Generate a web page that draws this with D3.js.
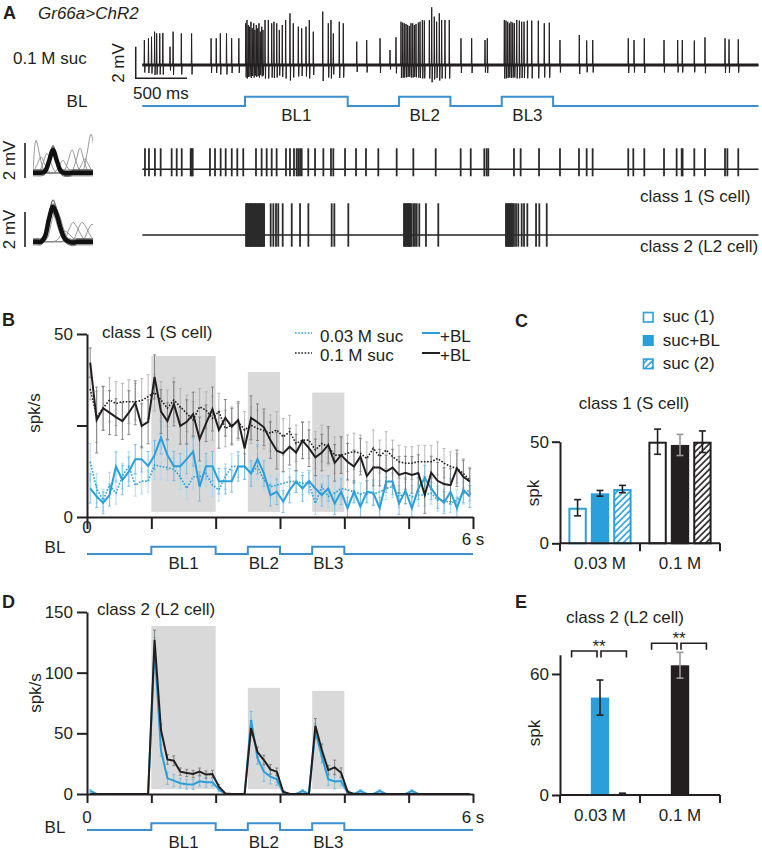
<!DOCTYPE html>
<html><head><meta charset="utf-8">
<script src="https://cdn.jsdelivr.net/npm/d3@7"></script>
<style>
html,body{margin:0;padding:0;background:#fff;}
svg{display:block;font-family:"Liberation Sans",Arial,Helvetica,sans-serif;}
</style></head><body>
<svg id="fig" width="762" height="853"></svg>
<script>
// ================= DATA =================
const blWindows = [[1,2],[2.5,3],[3.5,4]];
const blLabels = ["BL1","BL2","BL3"];

// Panel A: raw recording, spikes [time s, amplitude mV]
const rawSpikes = [
 [0.02,1.58],[0.06,1.69],[0.09,1.79],[0.12,2.11],[0.14,2.0],[0.17,2.0],[0.20,2.03],[0.27,1.16],[0.30,2.11],[0.38,2.0],[0.48,2.0],[0.67,1.69],[0.72,1.69],[0.76,2.0],[0.82,2.0],[0.87,1.69],[0.94,1.69],
 [1.007,2.64],[1.019,2.85],[1.032,2.53],[1.045,2.42],[1.058,2.74],[1.071,2.32],[1.085,2.64],[1.097,2.22],[1.110,2.53],[1.124,2.32],[1.136,2.64],[1.149,2.11],[1.163,2.42],[1.175,2.22],
 [1.195,2.85],[1.227,2.85],[1.26,2.64],[1.282,2.74],[1.309,2.64],[1.334,2.22],[1.363,2.53],[1.396,2.85],[1.438,3.27],[1.47,2.64],[1.519,2.43],[1.552,2.32],[1.594,2.43],[1.626,2.85],[1.665,2.11],[1.757,3.38],[1.811,2.64],[1.837,2.85],[1.86,2.0],[1.918,2.74],[1.957,2.64],[2.088,1.48],[2.185,1.58],[2.315,1.69],[2.412,0.95],
 [2.47,1.75],[2.519,2.74],[2.536,2.68],[2.551,2.64],[2.568,2.6],[2.584,2.53],[2.6,2.47],[2.616,2.64],[2.633,2.64],[2.649,2.53],[2.665,2.6],[2.688,2.68],[2.704,2.74],[2.727,2.85],[2.746,2.81],[2.795,2.85],[2.818,3.65],[2.843,3.06],[2.866,2.74],[2.892,3.27],[2.915,2.85],[2.947,2.85],[2.989,2.85],[3.103,1.69],[3.207,1.69],[3.337,1.58],[3.359,1.69],
 [3.525,2.85],[3.541,2.81],[3.558,2.74],[3.574,2.64],[3.59,2.74],[3.607,2.68],[3.623,2.64],[3.646,2.85],[3.671,2.81],[3.694,2.74],[3.717,2.74],[3.749,2.81],[3.792,2.81],[3.856,2.81],[3.914,2.64],[3.963,2.68],
 [4.067,1.58],[4.255,1.9],[4.327,1.55],[4.386,1.58],[4.732,1.69],[4.788,1.58],[4.888,1.69],[5.08,1.58],[5.213,1.58],[5.258,1.58],[5.375,1.55],[5.479,1.75],[5.674,1.69],[5.713,1.62],[5.803,1.62]
];
// sorted spike times (s)
const class1Times = [0.026,0.065,0.123,0.179,0.286,0.335,0.384,0.471,0.481,0.491,0.659,0.708,0.763,0.812,0.871,0.925,0.983,1.107,1.162,1.211,1.26,1.308,1.399,1.438,1.477,1.503,1.519,1.536,1.552,1.616,1.682,1.763,1.837,1.86,1.974,2.081,2.178,2.298,2.477,2.639,2.857,3.1,3.198,3.33,3.353,3.369,3.619,3.684,3.863,4.067,4.252,4.327,4.385,4.732,4.781,4.888,5.08,5.203,5.252,5.261,5.375,5.479,5.674,5.697,5.803];
const class2Times = [1.010,1.018,1.026,1.034,1.042,1.050,1.058,1.066,1.074,1.082,1.090,1.098,1.106,1.114,1.122,1.130,1.138,1.146,1.154,1.162,1.170,1.178,1.186,
 1.25,1.276,1.302,1.324,1.367,1.455,1.536,1.617,1.844,1.87,2.006,
 2.548,2.556,2.564,2.572,2.580,2.588,2.596,2.604,2.612,2.620,2.639,2.655,2.672,2.697,2.762,2.882,
 3.541,3.549,3.557,3.565,3.573,3.581,3.589,3.597,3.605,3.619,3.639,3.661,3.694,3.717,3.749,3.834,3.866,3.938];
// spike waveforms (time ms, mV)
const waveT = [-1,-0.8,-0.6,-0.4,-0.2,0,0.2,0.4,0.6,0.8,1,1.2,1.4,1.6,1.8,2];
const wave1 = [0,0,0,0.08,0.65,1.3,0.65,0.08,-0.03,-0.03,0,0,0,0,0,0];
const wave2 = [0,0,0,0.3,1.3,2.0,1.5,0.7,0.15,0,-0.05,0,0,0,0,0];
const wave1Overlaps = [[-0.85,1.85],[0.95,1.3],[1.35,1.4],[1.9,2.2],[-0.6,0.9],[0.5,0.7],[1.6,0.8],[-0.3,1.1]];
const wave2Overlaps = [[1.0,1.1],[1.45,1.1],[1.95,1.0],[0.15,1.9],[-0.1,1.8],[0.6,0.6]];
const waveBand = [[0.8,0.12],[0.9,-0.12],[1.15,0.08],[1.25,-0.1],[1.0,0.18],[1.05,-0.18]];

// Panel B (class 1) and D (class 2): spk/s per 100-ms bin
const timeBins = [0.05,0.15,0.25,0.35,0.45,0.55,0.65,0.75,0.85,0.95,1.05,1.15,1.25,1.35,1.45,1.55,1.65,1.75,1.85,1.95,2.05,2.15,2.25,2.35,2.45,2.55,2.65,2.75,2.85,2.95,3.05,3.15,3.25,3.35,3.45,3.55,3.65,3.75,3.85,3.95,4.05,4.15,4.25,4.35,4.45,4.55,4.65,4.75,4.85,4.95,5.05,5.15,5.25,5.35,5.45,5.55,5.65,5.75,5.85,5.95];
const b_blueSuc = [15.1,7.8,4.6,8.7,6.5,11.2,13.8,8.7,9.8,9.8,14.2,13.8,13.5,13.0,11.0,7.8,11.0,11.0,11.9,8.7,7.4,11.0,13.8,13.8,13.8,11.9,13.8,10.1,8.3,8.7,9.2,9.7,9.7,9.2,9.2,3.7,8.3,5.6,6.5,7.8,7.4,6.9,6.3,6.9,6.3,6.9,7.8,8.3,5.6,6.5,5.6,6.0,6.0,6.5,4.6,4.6,3.7,4.6,6.5,7.4];
const b_blueBL = [7.8,5.6,3.9,6.0,13.8,10.1,12.4,15.8,15.8,13.9,16.9,21.7,16.9,13.9,13.9,15.8,17.9,8.3,13.9,13.9,9.8,9.8,9.8,13.8,13.8,11.9,15.8,11.9,6.0,6.9,4.2,7.4,9.7,7.8,9.8,7.8,6.0,7.8,3.7,6.9,2.4,6.9,2.8,6.9,6.6,2.4,9.7,9.7,3.7,7.2,2.4,7.8,10.6,7.8,5.4,3.9,6.9,2.4,7.4,5.6];
const b_blackSuc = [35.0,27.4,29.7,32.0,31.0,31.5,31.5,31.5,31.8,32.9,34.0,32.0,29.7,32.0,30.1,28.3,26.5,30.1,29.2,27.0,28.8,24.2,25.1,26.0,23.8,25.1,24.2,23.6,22.9,23.8,21.9,23.3,20.1,21.0,21.0,18.3,20.1,19.2,16.9,16.9,17.4,17.9,17.4,16.0,18.8,16.5,18.3,16.5,15.1,14.7,14.7,15.1,15.1,15.1,16.0,14.7,13.8,13.3,11.9,10.1];
const b_blackBL = [42.2,26.5,29.7,28.5,27.3,26.2,28.5,31.2,24.9,26.0,38.3,28.8,26.2,30.9,24.9,26.0,28.1,21.3,25.6,29.5,23.8,27.1,24.7,26.5,18.8,27.1,25.9,24.5,21.0,18.1,17.4,19.2,17.6,20.9,18.8,16.3,17.6,19.7,14.8,16.9,15.1,13.8,16.5,11.2,13.5,13.5,12.4,13.5,11.5,12.1,11.5,12.0,6.0,12.1,9.9,9.0,8.7,13.3,11.0,9.7];
const b_blueSucErr = [5,4,3,3.5,3,3.5,4,3,3.5,3,4,3.5,3.5,3,3.5,3,3.5,3,3.5,3,3,3.5,3.5,3,3.5,3,3.5,3,3,3,3,3.5,3,3,3,3,3,3,3,3,3,3,3,3,3,3,3,3,3,3,3,3,3,3,3,3,2.5,3,3,3];
const b_blueBLErr = [4,3,3,3,4,4,4,4,3.5,4,4,4.5,4,4,3.5,4,4,4,3.5,4,3.5,3.5,3,4,3.5,3.5,4,3.5,3,3.5,3,3.5,3,3.5,3,3.5,3,3.5,3,3.5,3,3,3.5,3,3.5,3,3,3.5,3,3.5,3,3,3.5,3,3,3,3.5,3,3.5,3];
const b_blackSucErr = [3,7,6,6,6,5,6,5,6,6,5,5,5,6,5,5,5,5,5,6,5,5,5,5,5,5,5,5,5,5,5,4.5,5,5,5,5,5,5,5,5,5,5,5,4.5,5,4.5,5,4.5,4.5,4.5,4.5,4.5,4.5,4.5,4.5,4,4,4,4,3.5];
const b_blackBLErr = [4,9,6,6,5,5,6,6,6,6,6,6,5,6,5,6,6,6,5,6,5,5,5,5,5,6,5,5,5,5,5,5,5,5,5,5,5,5,5,5,5,4.5,5,5,5,5,4.5,5,5,4.5,5,5,5,4.5,5,4.5,4.5,5,4.5,3.5];
const shadeTopB = [44,39.6,34];
const shadeBottomB = 1.4;

const d_blueBL = [2.5,0,0,0,0,0,0,0,0,0,120,36,12.9,11,8.9,8,7.9,10.5,9.6,9.6,3.8,0,0,0,0,61,29.6,18.4,14.3,12.1,1,0,0,2.5,0,52,30.7,12.1,10.3,10.7,1,0,2.5,0,0,2.5,0,0,0,0,2.5,0,0,0,0,0,0,0,0,0];
const d_blackBL = [0,0,0,0,0,0,0,0,0,0,127,52.7,28.5,27.4,18.4,17.3,16.5,18.4,16,16.5,6,0.5,0,0,0,54.3,34.6,28,20.3,18.4,1.9,0,0,0,0,56.2,36.2,19.7,21.9,17.5,1.9,0,0,0,0,0,0,0,0,0,0,0,0,0,0,0,0,0,0,0];
const d_blueBLErr = [1,0,0,0,0,0,0,0,0,0,9,5,5,5,4,4,4,4,4,3,2,0,0,0,0,7,5,8,6,5,1,0,0,1,0,6,5,5,6,4,1,0,1,0,0,1,0,0,0,0,1,0,0,0,0,0,0,0,0,0];
const d_blackBLErr = [0,0,0,0,0,0,0,0,0,0,8,5,4,4,3,3,3,3,3,3,2,0,0,0,0,6,4,4,4,3,1,0,0,0,0,6,5,4,6,4,1,0,0,0,0,0,0,0,0,0,0,0,0,0,0,0,0,0,0,0];
const shadeTopD = [138.5,87.5,85];
const shadeBottomD = 4;

// Panels C and E: spikes per trial
const concGroups = ["0.03 M","0.1 M"];
const conditions = ["suc (1)","suc+BL","suc (2)"];
const c_suc1 = [17.5,50.0], c_sucBL = [24.6,48.4], c_suc2 = [26.7,50.0];
const c_suc1Err = [4.0,6.2], c_sucBLErr = [1.4,5.2], c_suc2Err = [1.8,5.3];
const e_suc1 = [0,0], e_sucBL = [48.3,64.3], e_suc2 = [0.6,0];
const e_suc1Err = [0,0], e_sucBLErr = [8.7,6.4], e_suc2Err = [0.3,0];
const e_bracketLevels = [71.4,75.2];
const e_stars = ["**","**"];

// ================= DRAWING =================
const INK = "#231f20", BLUE = "#2a9fd9", BLCOL = "#3a8fcf", SHADE = "#d9d9d9";
const FONT = 17;
const svg = d3.select("#fig");
svg.append("rect").attr("width",762).attr("height",853).attr("fill","#fff");

const defs = svg.append("defs");
[["hatchBlue",BLUE],["hatchBlack",INK]].forEach(([id,col])=>{
  const p = defs.append("pattern").attr("id",id).attr("width",4.5).attr("height",4.5)
    .attr("patternUnits","userSpaceOnUse").attr("patternTransform","rotate(45)");
  p.append("rect").attr("width",4.5).attr("height",4.5).attr("fill","#fff");
  p.append("line").attr("x1",1).attr("x2",1).attr("y1",0).attr("y2",4.5).attr("stroke",col).attr("stroke-width",1.6);
});
defs.append("clipPath").attr("id","insetClip").append("rect").attr("x",33).attr("y",120).attr("width",60).attr("height",140);

function txt(x,y,s,o={}){
  const t = svg.append("text").attr("x",x).attr("y",y).text(s)
    .attr("font-size",o.size||FONT).attr("fill",o.fill||INK);
  if(o.anchor) t.attr("text-anchor",o.anchor);
  if(o.weight) t.attr("font-weight",o.weight);
  if(o.style) t.attr("font-style",o.style);
  if(o.rotate) t.attr("transform",`rotate(-90,${x},${y})`);
  return t;
}
function styleAxis(g,w){
  g.attr("font-family",null).attr("font-size",null);
  g.selectAll("text").attr("font-size",FONT).attr("fill",INK);
  g.selectAll("path,line").attr("stroke",INK).attr("stroke-width",w||2);
}
function blSteps(){ const pts=[[0,0]]; blWindows.forEach(([a,b])=>pts.push([a,0],[a,1],[b,1],[b,0])); pts.push([6,0]); return pts; }
function drawBL(xs,yLow,yHigh,labelY,blX,blY){
  const ys = d3.scaleLinear([0,1],[yLow,yHigh]);
  svg.append("path").attr("d",d3.line().x(d=>xs(d[0])).y(d=>ys(d[1]))(blSteps()))
    .attr("fill","none").attr("stroke",BLCOL).attr("stroke-width",2);
  blWindows.forEach((w,i)=>txt(xs((w[0]+w[1])/2),labelY,blLabels[i],{anchor:"middle"}));
  txt(blX,blY,"BL",{anchor:"middle"});
}

// ---------- Panel A ----------
txt(3,19,"A",{weight:"bold",size:18});
txt(38,19,"Gr66a>ChR2",{style:"italic"});
txt(13,64,"0.1 M suc");
const xA = d3.scaleLinear([0,6],[142.3,758.5]);
const yA = d3.scaleLinear([0,1],[65,49.2]);
svg.append("line").attr("x1",xA(0)).attr("x2",xA(6)).attr("y1",yA(0)).attr("y2",yA(0)).attr("stroke",INK).attr("stroke-width",3.2);
const tracePts = [[0,0]];
rawSpikes.forEach(([t,a])=>tracePts.push([t-0.003,0],[t,a],[t+0.004,-0.3*a],[t+0.008,0]));
tracePts.push([6,0]);
svg.append("path").attr("d",d3.line().x(d=>xA(d[0])).y(d=>yA(d[1]))(tracePts))
  .attr("fill","none").attr("stroke",INK).attr("stroke-width",1);
const sb = {t:-0.064,v:-0.84};
svg.append("path").attr("d",`M${xA(sb.t)},${yA(sb.v+2)}V${yA(sb.v)}H${xA(sb.t+0.5)}`)
  .attr("fill","none").attr("stroke",INK).attr("stroke-width",1.5);
txt(124,63,"2 mV",{anchor:"middle",rotate:true});
txt(133,99,"500 ms");
drawBL(xA,106,96.7,120.5,77,107);

const yR1 = d3.scaleLinear([0,1],[169.3,151.8]);
const yR2 = d3.scaleLinear([0,1],[235,217.5]);
[[yR1,class1Times,1.2,0.4],[yR2,class2Times,1.81,0.67]].forEach(([ys,times,up,dn])=>{
  svg.append("line").attr("x1",xA(0)).attr("x2",xA(6)).attr("y1",ys(0)).attr("y2",ys(0)).attr("stroke",INK).attr("stroke-width",1.6);
  svg.append("g").selectAll("line").data(times).join("line")
    .attr("x1",d=>xA(d)).attr("x2",d=>xA(d)).attr("y1",ys(up)).attr("y2",ys(-dn))
    .attr("stroke","#2b2b2b").attr("stroke-width",1.8);
});
txt(640,202,"class 1 (S cell)");
txt(640,252,"class 2 (L2 cell)");

// waveform insets
const xW = d3.scaleLinear([-1,2],[33,93]);
[[wave1,wave1Overlaps,172.7,1.3],[wave2,wave2Overlaps,241.7,2.0]].forEach(([w,ovl,base,peak])=>{
  const ys = d3.scaleLinear([0,1],[base,base-17.5]);
  const ln = d3.line().x(d=>xW(d[0])).y(d=>ys(d[1])).curve(d3.curveCatmullRom);
  const g = svg.append("g").attr("clip-path","url(#insetClip)");
  ovl.forEach(([sh,a])=>{
    const pts = [[-1,0]].concat(waveT.map((t,i)=>[t+sh,w[i]*a/peak]).filter(d=>d[0]>-1&&d[0]<2.6));
    g.append("path").attr("d",ln(pts)).attr("fill","none").attr("stroke","#8a8a8a").attr("stroke-width",0.9);
  });
  waveBand.forEach(([sc,off])=>{
    g.append("path").attr("d",ln(waveT.map((t,i)=>[t,w[i]*sc+off])))
      .attr("fill","none").attr("stroke","#6a6a6a").attr("stroke-width",0.9);
  });
  g.append("path").attr("d",ln(waveT.map((t,i)=>[t,w[i]])))
    .attr("fill","none").attr("stroke","#111").attr("stroke-width",4.5);
  svg.append("line").attr("x1",25).attr("x2",25).attr("y1",ys(1.7)).attr("y2",ys(-0.3)).attr("stroke",INK).attr("stroke-width",1.6);
  txt(15,ys(0.7),"2 mV",{anchor:"middle",rotate:true});
});

// ---------- time-course panels B and D ----------
function timePanel(cfg){
  const {xs,ys,shadeTop,shadeBottom,series,yTicks,yLabels,tickLen} = cfg;
  blWindows.forEach((w,i)=>svg.append("rect").attr("x",xs(w[0])).attr("width",xs(w[1])-xs(w[0]))
    .attr("y",ys(shadeTop[i])).attr("height",ys(shadeBottom)-ys(shadeTop[i])).attr("fill",SHADE));
  series.forEach(s=>{
    const g = svg.append("g").attr("stroke",s.errCol).attr("stroke-width",0.9);
    s.vals.forEach((v,i)=>{
      const e = s.err[i]; if(!e) return;
      const x = xs(timeBins[i]);
      g.append("line").attr("x1",x).attr("x2",x).attr("y1",ys(v+e)).attr("y2",ys(Math.max(0,v-e)));
      g.append("line").attr("x1",x-1.5).attr("x2",x+1.5).attr("y1",ys(v+e)).attr("y2",ys(v+e));
      if(v-e>0) g.append("line").attr("x1",x-1.5).attr("x2",x+1.5).attr("y1",ys(v-e)).attr("y2",ys(v-e));
    });
  });
  series.forEach(s=>{
    svg.append("path").attr("d",d3.line().x((d,i)=>xs(timeBins[i])).y(d=>ys(d))(s.vals))
      .attr("fill","none").attr("stroke",s.col).attr("stroke-width",s.dash?1.6:2)
      .attr("stroke-dasharray",s.dash?"1.6,1.6":null);
  });
  const gy = svg.append("g").attr("transform",`translate(${xs(0)},0)`)
    .call(d3.axisLeft(ys).tickValues(yTicks).tickFormat(d=>yLabels.includes(d)?d:"").tickSize(10).tickSizeOuter(0).tickPadding(4));
  styleAxis(gy);
  const gx = svg.append("g").attr("transform",`translate(0,${ys(0)})`)
    .call(d3.axisBottom(xs).tickValues([0,1,2,3,4,5,6]).tickFormat("").tickSize(tickLen).tickSizeOuter(0));
  styleAxis(gx);
}

const xB = d3.scaleLinear([0,6],[87,473]);
const yB = d3.scaleLinear([0,50],[517,334]);
timePanel({xs:xB,ys:yB,shadeTop:shadeTopB,shadeBottom:shadeBottomB,yTicks:[0,25,50],yLabels:[0,50],tickLen:12,
  series:[
    {vals:b_blueSuc,err:b_blueSucErr,col:BLUE,errCol:"#a9d6ef",dash:true},
    {vals:b_blackSuc,err:b_blackSucErr,col:INK,errCol:"#b0b0b0",dash:true},
    {vals:b_blueBL,err:b_blueBLErr,col:BLUE,errCol:"#6dbbe4",dash:false},
    {vals:b_blackBL,err:b_blackBLErr,col:INK,errCol:"#7a7a7a",dash:false}
  ]});
txt(2,326,"B",{weight:"bold",size:18});
txt(102,338,"class 1 (S cell)");
txt(40,413,"spk/s",{anchor:"middle",rotate:true});
txt(xB(0),533,"0",{anchor:"middle"});
txt(xB(6),545,"6 s",{anchor:"middle"});
drawBL(xB,554,546.7,569,55,553);
[[BLUE,"0.03 M suc",333,341.5],[INK,"0.1 M suc",353,360.5]].forEach(([col,lab,ly,by])=>{
  svg.append("line").attr("x1",295).attr("x2",312).attr("y1",ly).attr("y2",ly).attr("stroke",col).attr("stroke-width",1.6).attr("stroke-dasharray","1.6,1.6");
  txt(320,by,lab);
  svg.append("line").attr("x1",422).attr("x2",440).attr("y1",ly).attr("y2",ly).attr("stroke",col).attr("stroke-width",2);
  txt(440,by,"+BL");
});

const xD = d3.scaleLinear([0,6],[87,473]);
const yD = d3.scaleLinear([0,150],[794,612]);
timePanel({xs:xD,ys:yD,shadeTop:shadeTopD,shadeBottom:shadeBottomD,yTicks:[0,50,100,150],yLabels:[0,50,100,150],tickLen:9,
  series:[
    {vals:d_blueBL,err:d_blueBLErr,col:BLUE,errCol:"#6dbbe4",dash:false},
    {vals:d_blackBL,err:d_blackBLErr,col:INK,errCol:"#7a7a7a",dash:false}
  ]});
txt(2,608,"D",{weight:"bold",size:18});
txt(97,615,"class 2 (L2 cell)");
txt(41,693,"spk/s",{anchor:"middle",rotate:true});
txt(xD(0),823,"0",{anchor:"middle"});
txt(xD(6),823,"6 s",{anchor:"middle"});
drawBL(xD,830,823.3,848,55,833);

// ---------- bar panels C and E ----------
function barPanel(cfg){
  const {ys,vals,errs,stroke,yTicks} = cfg;
  const xg = d3.scaleBand(concGroups,[560,720]).paddingInner(0.21).paddingOuter(0.105);
  const xc = d3.scaleBand(conditions,[0,xg.bandwidth()]).paddingInner(0.18);
  const cols = [BLUE,INK];
  const hatch = ["url(#hatchBlue)","url(#hatchBlack)"];
  const centers = [];
  concGroups.forEach((g,gi)=>{
    const col = cols[gi]; centers.push([]);
    conditions.forEach((c,ci)=>{
      const v = vals[ci][gi], e = errs[ci][gi];
      const x0 = xg(g)+xc(c), w = xc.bandwidth();
      centers[gi].push(x0+w/2);
      const fill = ci===0?"#fff":(ci===1?col:hatch[gi]);
      if(v>0){
        if(stroke){
          svg.append("rect").attr("x",x0+1).attr("width",w-2).attr("y",ys(v)+1).attr("height",ys(0)-ys(v)-1)
            .attr("fill",fill).attr("stroke",col).attr("stroke-width",2);
        } else {
          svg.append("rect").attr("x",x0).attr("width",w).attr("y",ys(v)).attr("height",ys(0)-ys(v)).attr("fill",fill);
        }
      }
      if(e>0){
        const ec = (ci===1&&gi===1)?"#9a9a9a":INK;
        const x = x0+w/2;
        const eg = svg.append("g").attr("stroke",ec).attr("stroke-width",1.6);
        eg.append("line").attr("x1",x).attr("x2",x).attr("y1",ys(v+e)).attr("y2",ys(Math.max(0,v-e)));
        eg.append("line").attr("x1",x-3.5).attr("x2",x+3.5).attr("y1",ys(v+e)).attr("y2",ys(v+e));
        eg.append("line").attr("x1",x-3.5).attr("x2",x+3.5).attr("y1",ys(Math.max(0,v-e))).attr("y2",ys(Math.max(0,v-e)));
      }
    });
  });
  const gy = svg.append("g").attr("transform","translate(560,0)")
    .call(d3.axisLeft(ys).tickValues(yTicks).tickSize(8).tickSizeOuter(0).tickPadding(3));
  styleAxis(gy);
  const gx = svg.append("g").attr("transform",`translate(0,${ys(0)})`);
  gx.append("line").attr("x1",560).attr("x2",720).attr("y1",0).attr("y2",0);
  [560,640,720].forEach(x=>gx.append("line").attr("x1",x).attr("x2",x).attr("y1",0).attr("y2",8));
  styleAxis(gx);
  concGroups.forEach(g=>txt(xg(g)+xg.bandwidth()/2,ys(0)+26,g,{anchor:"middle"}));
  return centers;
}

const yC = d3.scaleLinear([0,50],[543.3,441.7]);
barPanel({ys:yC,vals:[c_suc1,c_sucBL,c_suc2],errs:[c_suc1Err,c_sucBLErr,c_suc2Err],stroke:true,yTicks:[0,50]});
txt(515,327,"C",{weight:"bold",size:18});
txt(634,409,"class 1 (S cell)",{anchor:"middle"});
txt(539,493,"spk",{anchor:"middle",rotate:true});
const legFill = ["#fff",BLUE,"url(#hatchBlue)"];
conditions.forEach((c,i)=>{
  const top = 311.7+23.3*i;
  svg.append("rect").attr("x",643.5).attr("y",top+0.8).attr("width",9.5).attr("height",9.5)
    .attr("fill",legFill[i]).attr("stroke",BLUE).attr("stroke-width",1.6);
  txt(662.7,top+10.5,c);
});

const yE = d3.scaleLinear([0,69.5],[795,654.8]);
const cE = barPanel({ys:yE,vals:[e_suc1,e_sucBL,e_suc2],errs:[e_suc1Err,e_sucBLErr,e_suc2Err],stroke:false,yTicks:[0,60]});
txt(515,608,"E",{weight:"bold",size:18});
txt(625,623,"class 2 (L2 cell)",{anchor:"middle"});
txt(540,733,"spk",{anchor:"middle",rotate:true});
cE.forEach((cs,gi)=>{
  const y = yE(e_bracketLevels[gi]);
  const legs = [[cs[0]-6,cs[1]-3],[cs[1]+1,cs[2]+4]];
  legs.forEach(([a,b])=>svg.append("path").attr("d",`M${a},${y+6.5}V${y}H${b}V${y+6.5}`)
    .attr("fill","none").attr("stroke",INK).attr("stroke-width",1.6));
  txt(cs[1]-1,y+1,e_stars[gi],{anchor:"middle"});
});
</script>
</body></html>
